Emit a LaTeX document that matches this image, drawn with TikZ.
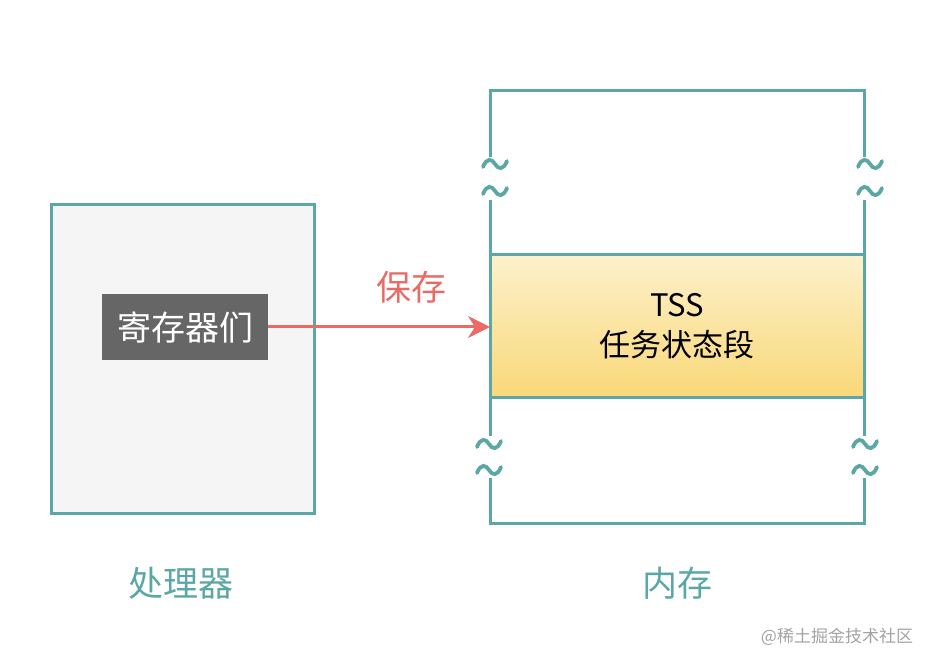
\documentclass[tikz,border=0pt]{standalone}
\usepackage{fontspec}
\setmainfont{Noto Sans CJK SC}
\usetikzlibrary{arrows.meta,positioning,calc}
\definecolor{memteal}{HTML}{5AA7A5}
\definecolor{savered}{HTML}{EA6B66}
\definecolor{regsgray}{HTML}{666666}
\definecolor{procfill}{HTML}{F5F5F5}
\definecolor{tsstop}{HTML}{FDF1CC}
\definecolor{tssbot}{HTML}{F9D878}
\definecolor{markgray}{HTML}{A3A3A3}
\tikzset{
  x=1pt, y=-1pt,
  proc/.style ={draw=memteal, line width=3pt, fill=procfill, minimum width=263pt, minimum height=308pt},
  regs/.style ={fill=regsgray, text=white, minimum width=166pt, minimum height=66pt, inner sep=0pt, font=\fontsize{34}{40}\selectfont},
  tss/.style  ={draw=memteal, line width=3pt, outer sep=0pt, top color=tsstop, bottom color=tssbot, minimum width=374pt, minimum height=142pt, align=center, font=\fontsize{31}{40}\selectfont},
  wall/.style ={draw=memteal, line width=3pt},
  wavy/.style ={draw=memteal, line width=3.8pt, line cap=round},
  arr/.style  ={-{Stealth[length=22pt, width=22pt, inset=7pt]}, draw=savered, line width=3pt},
  lbl/.style  ={font=\fontsize{35}{40}\selectfont},
  gap/.pic    ={\draw[wavy] (-12,3) .. controls (-8,-7) and (-3,-5) .. (0,0) .. controls (3,5) and (8,7) .. (12,-3);},
}

\begin{document}
\begin{tikzpicture}
  \useasboundingbox (0,0) rectangle (932,668);

  % processor side
  \node[proc] (proc) at (182.5,359) {};
  \node[regs] (regs) at (185,327) {寄存器们};
  \node[lbl, text=memteal] (proclbl) at (181,583) {处理器};

  % memory side
  \node[tss] (tss) at (677,326) {TSS\\任务状态段};
  \coordinate (lt) at (490,91);
  \coordinate (rt) at (864,91);
  \coordinate (lb) at (490,523);
  \coordinate (rb) at (864,523);
  \draw[wall] (490,157) -- (lt) -- (rt) -- (864,157);
  \draw[wall] (490,200) -- (tss.north west);
  \draw[wall] (864,200) -- (tss.north east);
  \draw[wall] (tss.south west) -- (490,436);
  \draw[wall] (tss.south east) -- (864,436);
  \draw[wall] (490,478) -- (lb) -- (rb) -- (864,478);
  \foreach \y in {164,191} {
    \pic at (495,\y) {gap};
    \pic at (870,\y) {gap};
  }
  \foreach \y in {444,470} {
    \pic at (489,\y) {gap};
    \pic at (865,\y) {gap};
  }
  \node[lbl, text=memteal] (memlbl) at (677,583) {内存};

  % save
  \draw[arr] (regs.east) -- (regs.east -| tss.west);
  \node[lbl, text=savered] (savelbl) at (411,287) {保存};

  \node[text=markgray, font=\fontsize{17}{20}\selectfont] (mark) at (837,637) {@稀土掘金技术社区};
\end{tikzpicture}
\end{document}
